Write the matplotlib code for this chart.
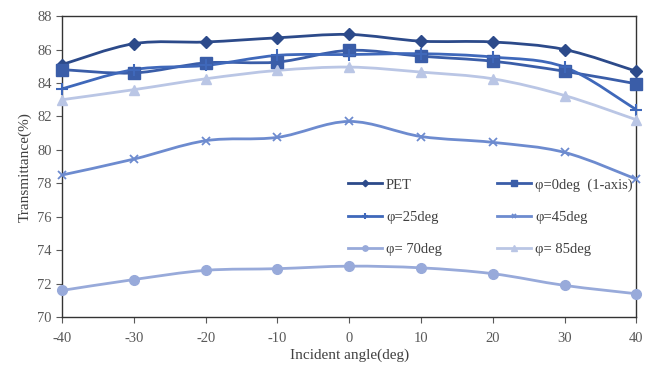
import numpy as np
import matplotlib
matplotlib.use("Agg")
import matplotlib.pyplot as plt
from matplotlib.path import Path
from matplotlib.patches import PathPatch
from matplotlib.lines import Line2D

plt.rcParams['font.family'] = ['Liberation Serif', 'DejaVu Serif']
plt.rcParams['axes.unicode_minus'] = False

# data
angles = [-40, -30, -20, -10, 0, 10, 20, 30, 40]
pet = [85.1, 86.35, 86.45, 86.7, 86.9, 86.5, 86.45, 86.0, 84.7]
phi0 = [84.8, 84.6, 85.2, 85.25, 85.95, 85.6, 85.3, 84.7, 83.95]
phi25 = [83.65, 84.8, 85.05, 85.65, 85.7, 85.75, 85.55, 84.95, 82.4]
phi45 = [78.5, 79.45, 80.55, 80.75, 81.7, 80.8, 80.45, 79.85, 78.25]
phi70 = [71.6, 72.25, 72.8, 72.9, 73.05, 72.95, 72.6, 71.9, 71.4]
phi85 = [83.0, 83.6, 84.25, 84.75, 84.95, 84.65, 84.25, 83.25, 81.8]
labels = ["PET", "\u03c6=0deg\u2002(1-axis)", "\u03c6=25deg", "\u03c6=45deg",
          "\u03c6= 70deg", "\u03c6= 85deg"]

colors = ["#2C4A8A", "#3A5DA8", "#3F68BA", "#6D8BCF", "#98AADA", "#BAC6E5"]
markers = ["D", "s", "+", "x", "o", "^"]
msizes = [6, 8, 8, 6, 7, 7]
mew = [1, 1, 1.5, 1.3, 1, 1]


def smooth_path(x, y):
    # catmull-rom style bezier through the points (like excel smoothed lines)
    x = np.asarray(x, float)
    y = np.asarray(y, float)
    n = len(x)
    verts = [(x[0], y[0])]
    codes = [Path.MOVETO]
    for i in range(n - 1):
        i0 = max(i - 1, 0)
        i3 = min(i + 2, n - 1)
        c1 = (x[i] + (x[i + 1] - x[i0]) / 6, y[i] + (y[i + 1] - y[i0]) / 6)
        c2 = (x[i + 1] - (x[i3] - x[i]) / 6, y[i + 1] - (y[i3] - y[i]) / 6)
        verts += [c1, c2, (x[i + 1], y[i + 1])]
        codes += [Path.CURVE4] * 3
    return Path(verts, codes)


fig = plt.figure(figsize=(6.54, 3.65), dpi=100)
ax = fig.add_axes([0.095, 0.131, 0.878, 0.825])

series = [pet, phi0, phi25, phi45, phi70, phi85]
handles = []
for s, c, m, ms, mw, lab in zip(series, colors, markers, msizes, mew, labels):
    ax.add_patch(PathPatch(smooth_path(angles, s), fill=False, edgecolor=c, lw=2))
    ax.plot(angles, s, linestyle="none", marker=m, ms=ms, color=c, mew=mw,
            clip_on=False, zorder=3)
    handles.append(Line2D([], [], color=c, lw=2, marker=m, ms=ms * 0.55, mew=mw, label=lab))

ax.set_xlim(-40, 40)
ax.set_ylim(70, 88)
ax.set_xticks(angles)
ax.set_yticks(np.arange(70, 89, 2))
ax.tick_params(colors="#595959", labelsize=10.5, direction="out", length=4)
ax.tick_params(axis="x", pad=7)
for sp in ax.spines.values():
    sp.set_color("#333333")
    sp.set_linewidth(1)

ax.set_xlabel("Incident angle(deg)", fontsize=11, color="#404040", labelpad=2)
ax.set_ylabel("Transmittance(%)", fontsize=11, color="#404040", labelpad=4)

# row-wise legend order like the original
order = [0, 2, 4, 1, 3, 5]
leg = ax.legend(handles=[handles[i] for i in order], ncol=2, frameon=False,
                fontsize=10.5, loc="upper left", bbox_to_anchor=(0.475, 0.505),
                handlelength=2.3, columnspacing=3.8, labelspacing=1.3,
                handletextpad=0.3)
for t in leg.get_texts():
    t.set_color("#404040")

fig.savefig("out.png", dpi=100)
